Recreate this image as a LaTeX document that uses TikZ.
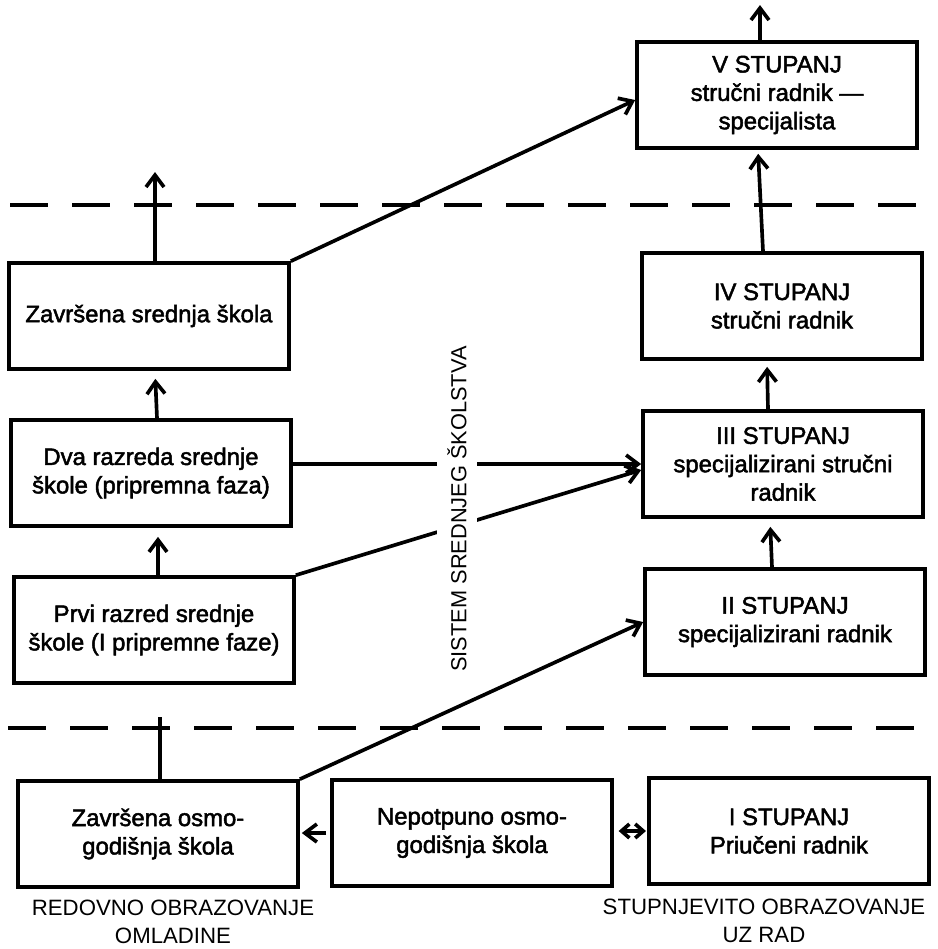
\documentclass[tikz,border=0pt]{standalone}
\usepackage{fontspec}
\setmainfont{Liberation Sans}
\newfontfamily\boxfont[FakeBold=2]{Liberation Sans}
\usetikzlibrary{arrows.meta}
\begin{document}
\begin{tikzpicture}[x=0.25mm, y=-0.25mm, line width=2.6pt,
        >={Straight Barb[length=3mm,width=4.5mm]},
        box/.style={draw, rectangle, minimum width=70mm, minimum height=26.5mm,
            inner sep=1mm, align=center, font=\boxfont\fontsize{17}{20.2}\selectfont},
        divider/.style={dash pattern=on 9.5mm off 6mm, line width=2.8pt},
        caption/.style={align=center, font=\fontsize{15.8}{20}\selectfont}]
    \useasboundingbox (0,0) rectangle (938,949);
    % stupnjevito obrazovanje
    \node[box] (v) at (777,95) {V STUPANJ\\stručni radnik —\\specijalista};
    \node[box] (iv) at (782,306) {IV STUPANJ\\stručni radnik};
    \node[box] (iii) at (783,464) {III STUPANJ\\specijalizirani stručni\\radnik};
    \node[box] (ii) at (785,622) {II STUPANJ\\specijalizirani radnik};
    \node[box] (i) at (789,831) {I STUPANJ\\Priučeni radnik};
    % redovno obrazovanje
    \node[box] (zss) at (149,316) {Završena srednja škola};
    \node[box] (dva) at (151,473) {Dva razreda srednje\\škole (pripremna faza)};
    \node[box] (prvi) at (154,630) {Prvi razred srednje\\škole (I pripremne faze)};
    \node[box] (zso) at (158,834) {Završena osmo-\\godišnja škola};
    \node[box] (nep) at (472,833) {Nepotpuno osmo-\\godišnja škola};
    \coordinate (vtop) at (760,5);
    \coordinate (zsstop) at (155,172);
    \coordinate (zsotop) at (160,717);
    % granice
    \draw[divider] (10,205) -- (925,205);
    \draw[divider] (8,728) -- (928,728);
    % veze
    \draw[->] (v.north -| vtop) -- (vtop);
    \draw[->, shorten >=1mm] ([xshift=-4.75mm]iv.north) -- ([xshift=-4.75mm]v.south);
    \draw[->, shorten >=1.5mm] ([xshift=-3.75mm]iii.north) -- ([xshift=-3.75mm]iv.south);
    \draw[->, shorten >=2mm] ([xshift=-3.25mm]ii.north) -- ([xshift=-3.25mm]iii.south);
    \draw[->] (zss.north -| zsstop) -- (zsstop);
    \draw[->, shorten >=2mm] ([xshift=1.5mm]dva.north) -- ([xshift=1.5mm]zss.south);
    \draw[->, shorten >=2.25mm] ([xshift=1mm]prvi.north) -- ([xshift=1mm]prvi.north |- dva.south);
    \draw (zso.north -| zsotop) -- (zsotop);
    \draw[->, shorten <=1mm, shorten >=0.5mm] (nep.west) -- (nep.west -| zso.east);
    \draw[{Straight Barb[length=2mm,width=3.5mm]}-{Straight Barb[length=2mm,width=3.5mm]}, shorten <=0.3mm, shorten >=1.2mm]
        (i.west) -- (i.west -| nep.east);
    \draw[->] (zss.north east) -- ([yshift=-1.25mm]v.west);
    \draw[->] (dva.east |- iii.west) -- (iii.west);
    \draw[->] (prvi.north east) -- ([yshift=-1.5mm]iii.west);
    \draw[->] (zso.north east) -- (ii.west);
    \node[rotate=90, fill=white, inner xsep=1mm, inner ysep=2.5mm,
        font=\fontsize{15.5}{18}\selectfont] (sss) at (457,509) {SISTEM SREDNJEG ŠKOLSTVA};
    % natpisi
    \node[caption] (redovno) at (173,922) {REDOVNO OBRAZOVANJE\\OMLADINE};
    \node[caption] (stupnj) at (764,921) {STUPNJEVITO OBRAZOVANJE\\UZ RAD};
\end{tikzpicture}
\end{document}
